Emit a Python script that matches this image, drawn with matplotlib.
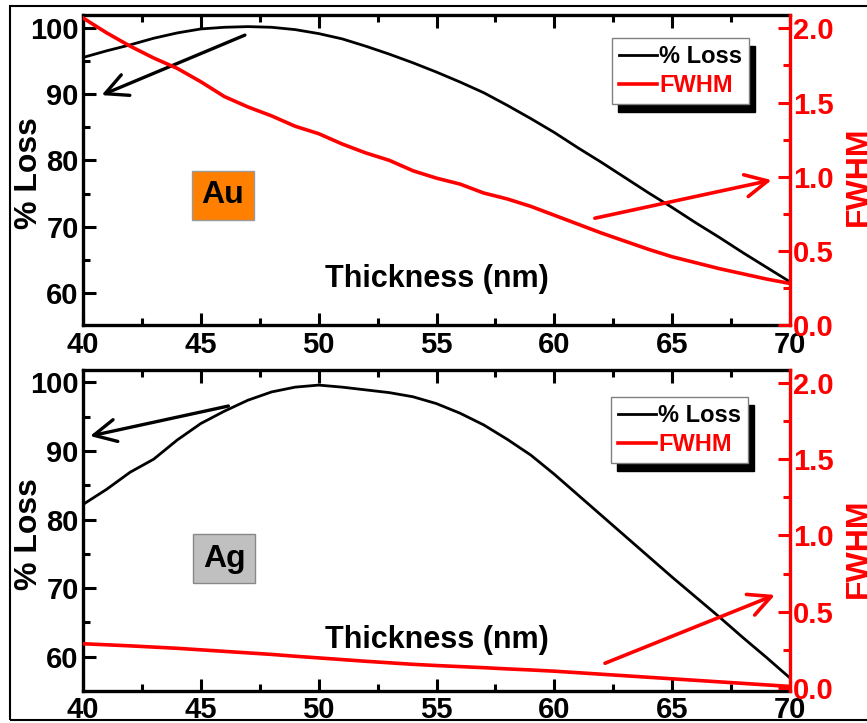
import matplotlib
matplotlib.use("Agg")
import matplotlib.pyplot as plt
from matplotlib.patches import Rectangle
from matplotlib.ticker import MultipleLocator

# Film thickness (nm)
thickness = list(range(40, 71))

# Au film: % loss and FWHM
au_loss = [95.5, 96.5, 97.4, 98.4, 99.2, 99.8, 100.05, 100.15, 100.05, 99.7,
           99.1, 98.3, 97.2, 96.0, 94.7, 93.3, 91.8, 90.2, 88.3, 86.3,
           84.2, 81.9, 79.7, 77.4, 75.1, 72.9, 70.6, 68.4, 66.1, 63.9, 61.7]
au_fwhm = [2.07, 1.97, 1.88, 1.80, 1.73, 1.64, 1.54, 1.47, 1.41, 1.34,
           1.29, 1.22, 1.16, 1.11, 1.04, 0.99, 0.95, 0.89, 0.85, 0.80,
           0.74, 0.68, 0.62, 0.565, 0.51, 0.46, 0.42, 0.38, 0.345, 0.31, 0.28]

# Ag film: % loss and FWHM
ag_loss = [82.2, 84.4, 86.9, 88.8, 91.6, 94.0, 95.8, 97.4, 98.6, 99.3,
           99.6, 99.3, 98.9, 98.5, 97.9, 96.9, 95.5, 93.8, 91.7, 89.4,
           86.6, 83.6, 80.6, 77.6, 74.6, 71.6, 68.7, 65.8, 62.8, 59.9, 56.9]
ag_fwhm = [0.29, 0.283, 0.276, 0.268, 0.26, 0.25, 0.24, 0.23, 0.22, 0.208,
           0.197, 0.186, 0.175, 0.165, 0.155, 0.147, 0.14, 0.133, 0.125, 0.118,
           0.11, 0.10, 0.09, 0.08, 0.07, 0.06, 0.05, 0.04, 0.03, 0.02, 0.01]

x_ticks = [40, 45, 50, 55, 60, 65, 70]
loss_ticks = [60, 70, 80, 90, 100]
fwhm_ticks = [0.0, 0.5, 1.0, 1.5, 2.0]

plt.rcParams['font.family'] = ['Liberation Sans', 'DejaVu Sans']
plt.rcParams['font.weight'] = 'bold'

W, H = 867, 723
fig = plt.figure(figsize=(W / 100, H / 100), dpi=100)


def px_rect(left, top, right, bottom):
    return [left / W, 1 - bottom / H, (right - left) / W, (bottom - top) / H]


def draw_panel(rect, loss, fwhm, metal, box_color, box_edge, box_xy,
               loss_lim, fwhm_lim, black_arrow, red_arrow, leg_anchor, xlabel_y):
    ax = fig.add_axes(rect)
    tw = ax.twinx()

    l1, = ax.plot(thickness, loss, color='black', lw=2.0)
    l2, = tw.plot(thickness, fwhm, color='red', lw=2.6)

    ax.set_xlim(40, 70)
    ax.set_ylim(*loss_lim)
    tw.set_ylim(*fwhm_lim)
    ax.set_xticks(x_ticks)
    ax.set_yticks(loss_ticks)
    tw.set_yticks(fwhm_ticks)
    ax.xaxis.set_minor_locator(MultipleLocator(2.5))
    ax.yaxis.set_minor_locator(MultipleLocator(5))
    tw.yaxis.set_minor_locator(MultipleLocator(0.25))
    tw.set_yticklabels([f'{v:.1f}' for v in fwhm_ticks])

    for s in ax.spines.values():
        s.set_linewidth(2.4)
    for name in ('left', 'top', 'bottom'):
        tw.spines[name].set_visible(False)
    tw.spines['right'].set_color('red')
    tw.spines['right'].set_linewidth(2.4)
    ax.spines['right'].set_visible(False)

    ax.tick_params(axis='both', which='both', direction='in', width=2.2,
                   top=True, right=False, labelsize=21)
    ax.tick_params(which='major', length=9)
    ax.tick_params(which='minor', length=5)
    ax.tick_params(axis='x', pad=4)
    ax.tick_params(axis='y', pad=3)
    tw.tick_params(axis='y', which='both', direction='in', width=2.2,
                   colors='red', labelsize=21, pad=2)
    tw.tick_params(which='major', length=9)
    tw.tick_params(which='minor', length=5)

    ax.text(0.5, xlabel_y, 'Thickness (nm)', transform=ax.transAxes,
            ha='center', va='center', fontsize=22, fontweight='bold')

    ax.text(box_xy[0], box_xy[1], metal, transform=ax.transAxes,
            ha='center', va='center', fontsize=23, fontweight='bold',
            bbox=dict(boxstyle='square,pad=0.3', facecolor=box_color,
                      edgecolor=box_edge, linewidth=1))

    ax.annotate('', xy=black_arrow[1], xytext=black_arrow[0],
                arrowprops=dict(arrowstyle='->,head_length=0.8,head_width=0.4',
                                color='black', lw=2.4, mutation_scale=20,
                                shrinkA=0, shrinkB=0))
    tw.annotate('', xy=red_arrow[1], xytext=red_arrow[0],
                arrowprops=dict(arrowstyle='->,head_length=0.8,head_width=0.4',
                                color='red', lw=2.6, mutation_scale=20,
                                shrinkA=0, shrinkB=0))

    leg = tw.legend([l1, l2], ['% Loss', 'FWHM'], loc='upper right',
                    bbox_to_anchor=leg_anchor, fancybox=False,
                    shadow={'ox': 4.5, 'oy': -6, 'facecolor': 'black',
                            'edgecolor': 'black', 'alpha': 1},
                    edgecolor='gray', framealpha=1,
                    handlelength=1.6, handletextpad=0.1, borderpad=0.3,
                    labelspacing=0.25, borderaxespad=0,
                    labelcolor=['black', 'red'],
                    prop={'weight': 'bold', 'size': 17})
    leg.get_frame().set_linewidth(1.0)
    return ax, tw


draw_panel(px_rect(83, 15, 790, 325), au_loss, au_fwhm, 'Au', '#FF8000', '#999999',
           (0.198, 0.419), (55.2, 101.9), (0.0, 2.09),
           ((46.87, 98.87), (40.79, 89.83)), ((61.72, 0.72), (69.22, 0.977)),
           (0.942, 0.926), 0.148)

draw_panel(px_rect(83, 370, 790, 690.7), ag_loss, ag_fwhm, 'Ag', '#C0C0C0', '#888888',
           (0.1995, 0.412), (55.05, 101.8), (-0.018, 2.085),
           ((46.17, 96.55), (40.30, 92.17)), ((62.15, 0.162), (69.36, 0.61)),
           (0.9406, 0.916), 0.158)

# Axis titles outside the panels
for yc in (173.5, 534):
    fig.text(29 / W, 1 - yc / H, '% Loss', rotation=90, ha='center', va='center',
             fontsize=23, fontweight='bold')
for yc in (176, 548):
    fig.text(859 / W, 1 - yc / H, 'FWHM', rotation=90, ha='center', va='center',
             fontsize=23, fontweight='bold', color='red')

# Outer frame
fig.patches.append(Rectangle((10 / W, 1 - 720 / H), 1.05, (720 - 6) / H,
                             transform=fig.transFigure, fill=False,
                             edgecolor='black', linewidth=1.5))

fig.savefig('out.png', dpi=100)
